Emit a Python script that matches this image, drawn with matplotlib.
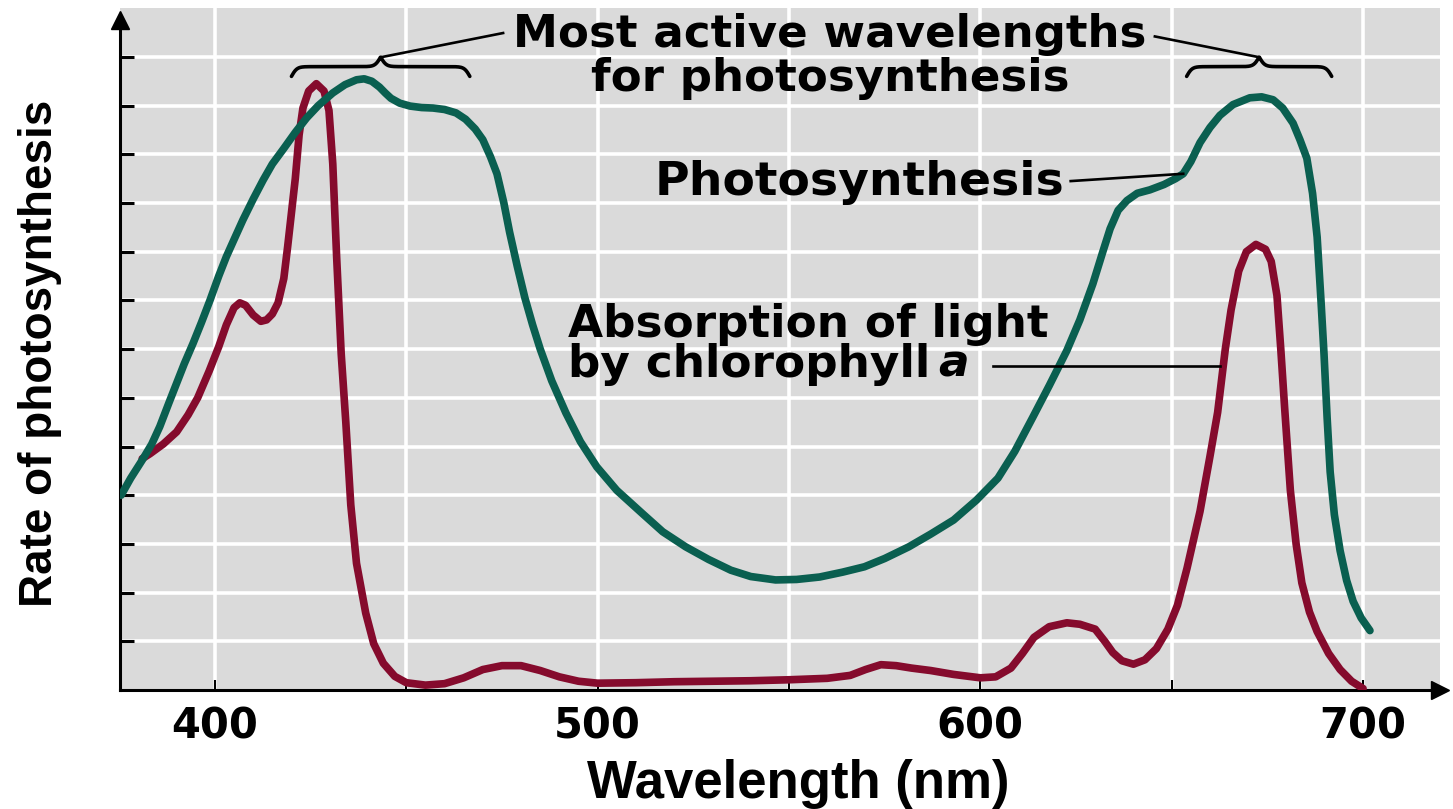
import numpy as np
import matplotlib
matplotlib.use("Agg")
import matplotlib.pyplot as plt

# ---------------- data ----------------
photo_nm = [375.5, 378, 381, 383.5, 385.6, 388, 390, 392, 394.3, 396.5, 398.7, 401, 403, 405,
            407.3, 410, 412.6, 415, 418, 421, 424, 427, 430.8, 434, 437, 439, 441, 443, 444.5,
            446, 448.3, 451, 454, 457, 460, 463, 465.5, 468, 470, 472, 473.7, 475.5, 477, 479,
            481, 483, 485, 488, 491.7, 495.5, 499.8, 505, 511.6, 517, 523, 529, 534.8, 540, 546.5,
            552, 558, 564, 569.7, 575, 581.3, 587, 593, 599, 604.6, 609, 613.7, 618, 622.6, 626,
            629.4, 632, 633.9, 636, 638.3, 641, 644.3, 648, 651, 653, 655, 657.4, 660, 662.6,
            666, 670.4, 673.5, 676.5, 679, 681.7, 683.5, 685.3, 686.8, 688, 689, 689.8, 690.6,
            691.4, 692.5, 694, 695.7, 697.4, 699.5, 701.8]
photo_rate = [4.0, 4.35, 4.72, 5.05, 5.41, 5.9, 6.3, 6.7, 7.12, 7.55, 8.0, 8.5, 8.9, 9.25,
              9.65, 10.08, 10.47, 10.8, 11.12, 11.45, 11.75, 12.0, 12.26, 12.43, 12.53, 12.55,
              12.5, 12.38, 12.26, 12.15, 12.05, 11.99, 11.96, 11.95, 11.92, 11.85, 11.72, 11.52,
              11.3, 10.95, 10.6, 10.0, 9.4, 8.7, 8.05, 7.5, 7.0, 6.35, 5.69, 5.1, 4.58, 4.1, 3.63,
              3.25, 2.94, 2.68, 2.46, 2.33, 2.26, 2.27, 2.32, 2.42, 2.53, 2.7, 2.94, 3.2, 3.49,
              3.9, 4.35, 4.9, 5.6, 6.25, 6.97, 7.6, 8.34, 9.0, 9.47, 9.85, 10.05, 10.2, 10.27,
              10.38, 10.5, 10.6, 10.85, 11.24, 11.55, 11.8, 12.02, 12.16, 12.18, 12.12, 11.95,
              11.64, 11.3, 10.92, 10.2, 9.3, 8.0, 6.89, 5.6, 4.48, 3.6, 2.86, 2.25, 1.82, 1.48,
              1.22]

absorb_nm = [381, 383, 386.5, 390, 393, 395.5, 398.5, 401, 403, 405, 406.5, 408, 410, 412,
             413.5, 415, 416.5, 418, 419, 420, 421, 422, 423, 424.5, 426.5, 428.5, 429.8, 430.8,
             431.8, 433, 434.2, 435.5, 437, 439.4, 441.5, 444, 447, 450, 455, 460, 465, 470, 475,
             480, 485, 490, 495, 500, 510, 520, 530, 540, 550, 560, 566, 570, 574, 578, 582, 587,
             593, 600, 604, 608, 611, 614, 618, 622.6, 626, 630, 632.5, 634.6, 637, 640, 643, 646,
             649, 651.5, 654, 657.4, 660, 662, 664, 665.5, 667.5, 669.5, 672, 674.5, 676, 677.5,
             678.5, 679.5, 681, 682.5, 684, 686, 688, 691, 694, 697, 700]
absorb_val = [4.75, 4.85, 5.05, 5.3, 5.65, 6.0, 6.55, 7.05, 7.5, 7.85, 7.95, 7.9, 7.7, 7.57,
              7.6, 7.72, 7.95, 8.45, 9.1, 9.8, 10.5, 11.4, 11.95, 12.3, 12.45, 12.3, 11.9, 10.8,
              8.9, 6.9, 5.5, 3.8, 2.6, 1.58, 0.95, 0.55, 0.28, 0.15, 0.1, 0.13, 0.25, 0.42, 0.5,
              0.5, 0.4, 0.27, 0.18, 0.14, 0.15, 0.17, 0.18, 0.19, 0.21, 0.24, 0.3, 0.42, 0.52,
              0.5, 0.45, 0.4, 0.32, 0.25, 0.27, 0.45, 0.75, 1.08, 1.3, 1.38, 1.35, 1.25, 1.0,
              0.77, 0.6, 0.53, 0.62, 0.85, 1.25, 1.74, 2.5, 3.67, 4.8, 5.7, 7.0, 7.8, 8.6, 9.0,
              9.15, 9.05, 8.8, 8.1, 7.0, 5.8, 4.1, 3.0, 2.2, 1.6, 1.2, 0.75, 0.42, 0.18, 0.03]

x_major = [400, 500, 600, 700]
x_minor = [450, 550, 650]
x_labels = ["400", "500", "600", "700"]
y_ticks = list(range(1, 14))

# spans of the two "most active" brackets (nm)
brace_spans = [(420.0, 466.6), (653.9, 691.8)]

GREEN = "#0a5f50"
RED = "#850b2d"
BG = "#dadada"

W, H = 1453, 809
fig = plt.figure(figsize=(W / 100, H / 100), dpi=100)
ax = fig.add_axes([120 / W, 119 / H, 1320 / W, (690 - 8.2) / H])
ax.set_facecolor(BG)
ax.set_xlim(375.2, 720.1)
ax.set_ylim(0, 14)

# grid
ax.set_xticks(x_major)
ax.set_xticks(x_minor, minor=True)
ax.set_yticks(y_ticks)
ax.grid(True, which="both", axis="x", color="white", lw=2.6, zorder=0)
ax.grid(True, which="major", axis="y", color="white", lw=2.6, zorder=0)
ax.set_axisbelow(True)

ax.set_xticklabels(x_labels, fontdict=dict(family="DejaVu Sans", weight="bold", size=30))
ax.set_yticklabels([])
ax.tick_params(axis="x", which="both", direction="in", length=7.5, width=1.5, pad=11,
               color="black")
ax.tick_params(axis="y", which="major", direction="in", length=10, width=2.2, color="black")

for s in ["top", "right"]:
    ax.spines[s].set_visible(False)
for s in ["left", "bottom"]:
    ax.spines[s].set_linewidth(2.2)
    ax.spines[s].set_color("black")
ax.spines["left"].set_bounds(0, 13.7)

# axis arrows
ax.plot([0], [(690 - 20) / (690 - 8.2)], marker="^", ms=13, color="black",
        transform=ax.transAxes, clip_on=False, zorder=6)
ax.plot([1], [0], marker=">", ms=13, color="black",
        transform=ax.transAxes, clip_on=False, zorder=6)

# curves
ax.plot(absorb_nm, absorb_val, color=RED, lw=5.5, solid_joinstyle="round",
        solid_capstyle="round", zorder=3)
ax.plot(photo_nm, photo_rate, color=GREEN, lw=5.5, solid_joinstyle="round",
        solid_capstyle="round", zorder=4)


# braces
def brace(x0, x1, y0, h, beta=1.4, n=400):
    xm = (x0 + x1) / 2
    xs = np.linspace(x0, x1, n)
    sig = lambda z: 1 / (1 + np.exp(-z))
    left = xs <= xm
    ys = np.empty_like(xs)
    ys[left] = y0 + h * (sig(beta * (xs[left] - x0)) + sig(beta * (xs[left] - xm))) - h / 2
    ys[~left] = y0 + h * (sig(beta * (x1 - xs[~left])) + sig(beta * (xm - xs[~left]))) - h / 2
    return xs, ys, xm


tips = []
for (a, b) in brace_spans:
    bx, by, xm = brace(a, b, 12.6, 0.4)
    ax.plot(bx, by, color="black", lw=2.6, zorder=5, solid_capstyle="round")
    tips.append((xm, by.max()))

txt_font = dict(family="DejaVu Sans", weight="bold", color="black")

# heading
ax.text(560.7, 13.2, "Most active wavelengths", ha="center", va="baseline", size=32.5,
        zorder=7, **txt_font)
ax.text(560.7, 12.29, "for photosynthesis", ha="center", va="baseline", size=32.5,
        zorder=7, **txt_font)
ax.plot([475.3, tips[0][0]], [13.49, tips[0][1]], color="black", lw=1.9, zorder=5)
ax.plot([645.6, tips[1][0]], [13.42, tips[1][1]], color="black", lw=1.9, zorder=5)

# Photosynthesis label
ax.text(568.3, 10.16, "Photosynthesis", ha="center", va="baseline", size=34, zorder=7,
        **txt_font)
ax.plot([623.6, 653.0], [10.45, 10.6], color="black", lw=1.9, zorder=5)

# Absorption label
ax.text(492.2, 7.25, "Absorption of light", ha="left", va="baseline", size=32.7, zorder=7,
        **txt_font)
t2 = ax.text(492.2, 6.43, "by chlorophyll", ha="left", va="baseline", size=32.7, zorder=7,
             **txt_font)
ax.annotate("a", xy=(1, 0), xycoords=t2, xytext=(6, 0), textcoords="offset points",
            ha="left", va="bottom", size=32.7, style="italic", zorder=7, **txt_font)
ax.plot([603.3, 662.6], [6.65, 6.65], color="black", lw=1.9, zorder=5)

# axis labels
fig.text(798 / W, 11 / H, "Wavelength (nm)", ha="center", va="baseline",
         family="Liberation Sans", weight="bold", size=38)
fig.text(18 / W, 1 - 353 / H, "Rate of photosynthesis", rotation=90, ha="left",
         va="center", family="Liberation Sans", weight="bold", size=33)

fig.savefig("out.png", dpi=100)
